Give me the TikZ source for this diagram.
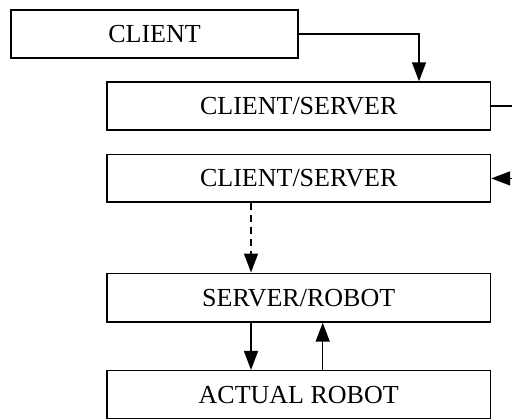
\documentclass[tikz,border=0pt]{standalone}
\usepackage{fontspec}
\setmainfont{Liberation Serif}
\usetikzlibrary{arrows.meta}
\begin{document}
\begin{tikzpicture}[x=1bp,y=-1bp,
  box/.style={draw,line width=1.5bp,rectangle,inner sep=0pt,font=\fontsize{26bp}{30bp}\selectfont},
  link/.style={line width=1.5bp},
  arr/.style={link,-{Triangle[length=19bp,width=14bp]}}]
\useasboundingbox (0,0) rectangle (512,418);
\node[box,minimum width=287bp,minimum height=48bp] (client) at (154.5,34) {CLIENT};
\node[box,minimum width=383.5bp,minimum height=48bp] (cs1) at (298.7,106) {CLIENT/SERVER};
\node[box,minimum width=383.5bp,minimum height=47.5bp] (cs2) at (298.7,178.4) {CLIENT/SERVER};
\node[box,minimum width=383.5bp,minimum height=48.7bp] (sr) at (298.7,297.6) {SERVER/ROBOT};
\node[box,minimum width=383.5bp,minimum height=48bp] (ar) at (298.7,394.7) {ACTUAL ROBOT};
\coordinate (k1) at (419,0);
\coordinate (r1) at (512,106);
\coordinate (r2) at (512,178.4);
\coordinate (d1) at (251,0);
\coordinate (d2) at (322.7,0);
\draw[arr] (client.east) -| (cs1.north -| k1);
\draw[link] (cs1.east) -- (r1);
\draw[arr] (r2) -- (cs2.east);
\draw[arr,dash pattern=on 7bp off 5bp] (cs2.south -| d1) -- (sr.north -| d1);
\draw[arr] (sr.south -| d1) -- (ar.north -| d1);
\draw[arr] (ar.north -| d2) -- (sr.south -| d2);
\end{tikzpicture}
\end{document}
